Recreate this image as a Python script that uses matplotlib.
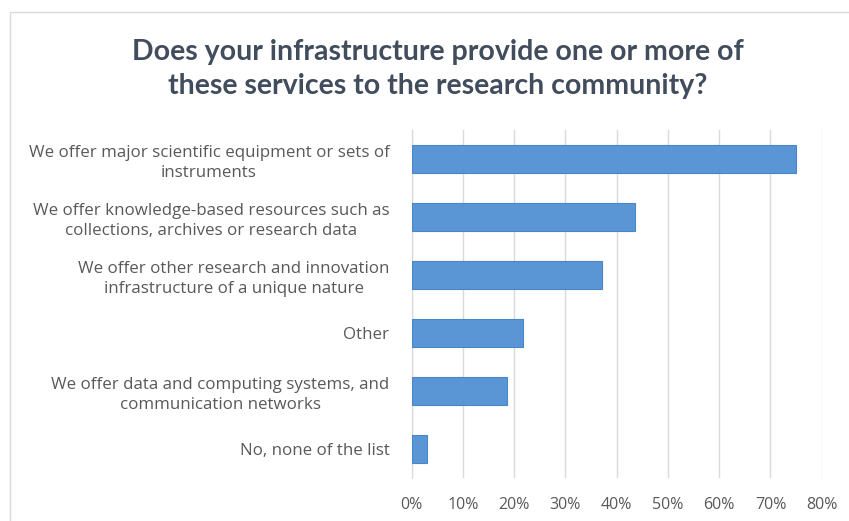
import matplotlib
matplotlib.use("Agg")
import matplotlib.pyplot as plt
from matplotlib.patches import Rectangle
from matplotlib.ticker import FuncFormatter

categories = [
    "We offer major scientific equipment or sets of\ninstruments",
    "We offer knowledge-based resources such as\ncollections, archives or research data",
    "We offer other research and innovation\ninfrastructure of a unique nature",
    "Other",
    "We offer data and computing systems, and\ncommunication networks",
    "No, none of the list",
]
shares = [75.0, 43.6, 37.1, 21.8, 18.6, 2.9]
x_ticks = [0, 10, 20, 30, 40, 50, 60, 70, 80]
title = "Does your infrastructure provide one or more of\nthese services to the research community?"

W, H = 849, 521
fig = plt.figure(figsize=(W / 100, H / 100), dpi=100)
fig.patch.set_facecolor("white")

# light frame around the chart area
fig.patches.append(Rectangle((10 / W, -0.05), 1.0, 1 - 12 / H + 0.05,
                             transform=fig.transFigure, fill=False,
                             edgecolor="#D9D9D9", linewidth=1.0))

left, right = 411.7 / W, 821.7 / W
top, bottom = 1 - 130 / H, 1 - 478 / H
ax = fig.add_axes([left, bottom, right - left, top - bottom])

ypos = list(range(len(categories)))
ax.barh(ypos, shares, height=0.48, color="#5A96D6", edgecolor="#4A86C6",
        linewidth=0.8, zorder=3)

ax.set_xlim(0, 80)
ax.set_ylim(len(categories) - 0.5, -0.5)
ax.set_xticks(x_ticks)
ax.xaxis.set_major_formatter(FuncFormatter(lambda v, p: f"{v:.0f}%"))
ax.set_yticks(ypos)
ax.set_yticklabels(categories, multialignment="center", linespacing=1.3)

ax.grid(axis="x", color="#D9D9D9", linewidth=1.0, zorder=0)
for s in ["top", "right", "bottom"]:
    ax.spines[s].set_visible(False)
ax.spines["left"].set_color("#D9D9D9")
ax.tick_params(axis="x", length=0, pad=14, labelsize=11.5, colors="#595959")
ax.tick_params(axis="y", length=0, pad=16, labelsize=12.2, colors="#595959")
for lbl in ax.get_yticklabels() + ax.get_xticklabels():
    lbl.set_fontfamily("Open Sans")

fig.text(438 / W, 1 - 69 / H, title, ha="center", va="center",
         fontsize=20.5, fontweight="bold", color="#414C5C", family="Lato",
         linespacing=1.4)

fig.savefig("out.png", dpi=100, facecolor="white")
